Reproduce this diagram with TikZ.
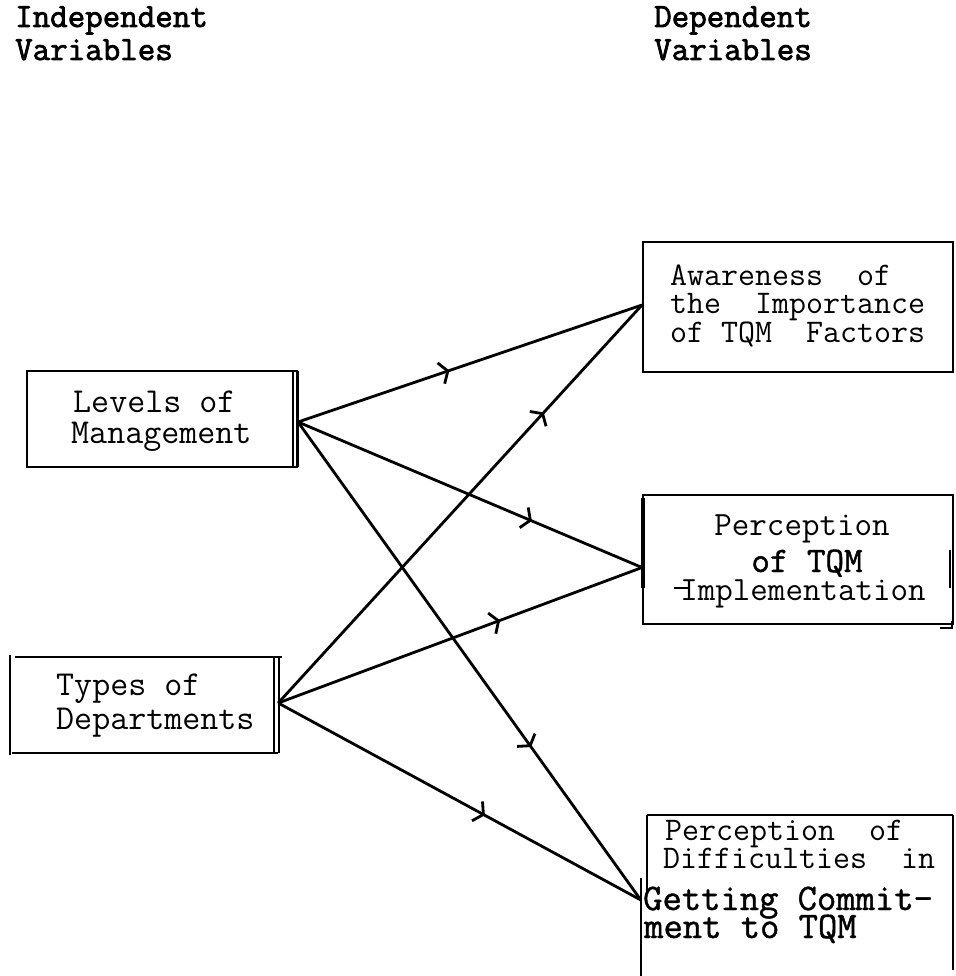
\documentclass[tikz,border=0pt]{standalone}
\usepackage{fontspec}
\newfontfamily\typefont{Latin Modern Mono}
\newfontfamily\headfont{Latin Modern Mono}[FakeBold=2.2]
\newfontfamily\darkfont{Latin Modern Mono}[FakeBold=1.2]
\usetikzlibrary{arrows.meta,decorations.markings}

\tikzset{
  lbl/.style={anchor=base west, inner sep=0pt},
  hd/.style={lbl, font=\headfont\fontsize{34}{34}\selectfont},
  tx/.style={lbl, font=\typefont\fontsize{33}{33}\selectfont},
  txm/.style={lbl, font=\typefont\fontsize{35}{35}\selectfont},
  txb/.style={lbl, font=\darkfont\fontsize{37.5}{37.5}\selectfont},
  txc/.style={lbl, anchor=base, font=\typefont\fontsize{34}{34}\selectfont},
  box/.style={draw, line width=2pt, inner sep=0pt},
  hollow/.style={draw=none, inner sep=0pt},
  edge line/.style={line width=2pt},
  link/.style={line width=2.8pt, postaction={decorate}},
  barb at/.style={decoration={markings,
      mark=at position #1 with {\arrow{Straight Barb[length=7pt,width=22pt]}}}}
}

\begin{document}
\begin{tikzpicture}[x=1pt,y=-1pt]
\useasboundingbox (0,0) rectangle (955,976);

% column headings
\node[hd] (ih1) at (15,27) {Independent};
\node[hd] (ih2) at (15,60) {Variables};
\node[hd] (dh1) at (654,27) {Dependent};
\node[hd] (dh2) at (654,60) {Variables};

% independent variables
\node[box, minimum width=270pt, minimum height=96pt] (L) at (162,419) {};
\draw[line width=1.2pt] (293,371) -- (293,467);
\draw[line width=3pt] (297,371) -- (297,467);
\node[txm] (l1) at (73,412) {Levels of};
\node[txm] (l2) at (71,443) {Management};

\node[hollow, minimum width=268pt, minimum height=96pt] (T) at (144,705) {};
\draw[edge line] (15,657) -- (282,657);
\draw[edge line] (12,753) -- (278,753);
\draw[line width=2.6pt] (10,655) -- (10,755);
\draw[line width=1.6pt] (274,657) -- (274,753);
\draw[edge line] (279,657) -- (279,753);
\node[txm] (t1) at (56,695) {Types of};
\node[txm] (t2) at (56,729) {Departments};

% dependent variables
\node[box, minimum width=310pt, minimum height=130pt] (A) at (798,307) {};
\node[tx] (a1) at (670,285) {Awareness\ \ of};
\node[tx] (a2) at (670,313) {the\ \ Importance};
\node[tx] (a3) at (670,342) {of TQM\ \ Factors};

\node[box, minimum width=310pt, minimum height=129pt] (P) at (798,559.5) {};
\draw[line width=3.4pt] (643,498) -- (643,588);
\draw[line width=2.4pt] (950,550) -- (950,588);
\draw[edge line] (940,628) -- (952,628) -- (952,621);
\draw[edge line] (674,588) -- (688,588);
\node[txc] (p1) at (802,535) {Perception};
\node[txc, font=\darkfont\fontsize{36}{36}\selectfont] (p2) at (807,572) {of TQM};
\node[txc] (p3) at (803,600) {Implementation};

\node[hollow, minimum width=312pt, minimum height=160pt] (D) at (797,895) {};
\draw[edge line] (647,815) -- (953,815);
\draw[edge line] (647,815) -- (647,892);
\draw[edge line] (641,878) -- (641,976);
\draw[edge line] (953,815) -- (953,970);
\node[tx] (d1) at (665,840) {Perception\ \ of};
\node[tx] (d2) at (663,868) {Difficulties\ \ in};
\node[txb] (d3) at (643,910) {Getting Commit-};
\node[txb] (d4) at (644,938) {ment to TQM};

% influences
\draw[link, barb at=0.44] ([yshift=-3pt]L.east) -- ([yshift=2pt]A.west);
\draw[link, barb at=0.68] ([yshift=-3pt]L.east) -- ([yshift=-8pt]P.west);
\draw[link, barb at=0.68] ([yshift=-3pt]L.east) -- ([yshift=-5pt]D.west);
\draw[link, barb at=0.73] ([yshift=2pt]T.east) -- ([yshift=2pt]A.west);
\draw[link, barb at=0.61] ([yshift=2pt]T.east) -- ([yshift=-8pt]P.west);
\draw[link, barb at=0.57] ([yshift=2pt]T.east) -- ([yshift=-5pt]D.west);
\end{tikzpicture}
\end{document}
